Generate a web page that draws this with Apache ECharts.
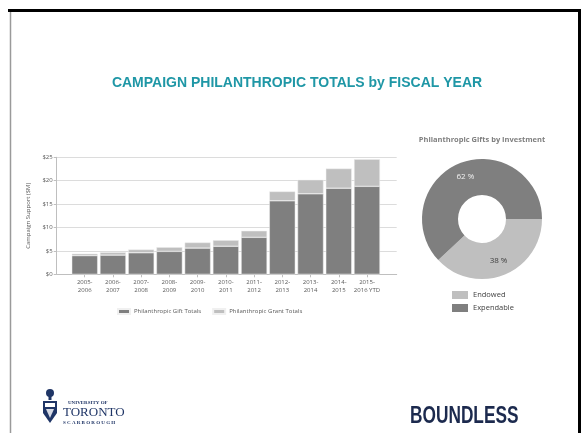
<!DOCTYPE html>
<html>
<head>
<meta charset="utf-8">
<script src="https://cdn.jsdelivr.net/npm/echarts@6/dist/echarts.min.js"></script>
<style>
html,body{margin:0;padding:0;background:#fff;}
#c{width:586px;height:433px;}
</style>
</head>
<body>
<div id="c"></div>
<script>
// ---- data ----
var categories = ['2005-\n2006','2006-\n2007','2007-\n2008','2008-\n2009','2009-\n2010','2010-\n2011','2011-\n2012','2012-\n2013','2013-\n2014','2014-\n2015','2015-\n2016 YTD'];
var giftTotals  = [4.0, 4.1, 4.6, 4.9, 5.6, 6.0, 7.9, 15.7, 17.2, 18.4, 18.8];
var grantTotals = [0.4, 0.6, 0.7, 0.9, 1.2, 1.3, 1.4, 2.0, 3.0, 4.2, 5.8];
var yTicks = [0, 5, 10, 15, 20, 25];
var pieNames = ['Endowed', 'Expendable'];
var pieValues = [38, 62];

var chart = echarts.init(document.getElementById('c'), null, {renderer:'canvas'});
var labelFont = 'Open Sans';
var navy = '#1f3566';

var option = {
  backgroundColor: '#ffffff',
  animation: false,
  title: [
    {text: 'CAMPAIGN PHILANTHROPIC TOTALS by FISCAL YEAR', left: 297, top: 76, textAlign: 'center', padding: 0,
     textStyle: {fontFamily: 'Liberation Sans', fontWeight: 'bold', fontSize: 14, color: '#1f97a6'}},
    {text: 'Philanthropic Gifts by Investment', left: 482, top: 136, textAlign: 'center', padding: 0,
     textStyle: {fontFamily: labelFont, fontWeight: 'bold', fontSize: 7.5, color: '#7f7f7f'}}
  ],
  legend: [
    {data: ['Philanthropic Gift Totals', 'Philanthropic Grant Totals'], left: 112, top: 303,
     itemWidth: 12, itemHeight: 5, itemGap: 11, icon: 'rect',
     textStyle: {fontFamily: labelFont, fontSize: 6, color: '#595959', padding: [0,0,0,-1]}},
    {data: pieNames, orient: 'vertical', left: 447, top: 286, itemWidth: 16, itemHeight: 8, itemGap: 5,
     icon: 'rect', textStyle: {fontFamily: labelFont, fontSize: 7.5, color: '#404040'}}
  ],
  grid: [
    {left: 56.7, top: 157.3, width: 340, height: 117, containLabel: false},
    {left: 70.6, top: 157.3, width: 310.5, height: 117, containLabel: false}
  ],
  xAxis: [
    {type: 'value', gridIndex: 0, min: 0, max: 1, axisLabel: {show: false}, axisTick: {show: false},
     splitLine: {show: false}, axisLine: {show: true, lineStyle: {color: '#bfbfbf', width: 1}}},
    {type: 'category', gridIndex: 1, data: categories, axisLine: {show: false},
     axisTick: {show: true, alignWithLabel: true, length: 3, lineStyle: {color: '#bfbfbf'}},
     axisLabel: {interval: 0, fontFamily: labelFont, fontSize: 6, lineHeight: 8, color: '#595959', margin: 4}}
  ],
  yAxis: [
    {type: 'value', gridIndex: 0, min: 0, max: 25, interval: 5,
     name: 'Campaign Support ($M)', nameLocation: 'middle', nameRotate: 90, nameGap: 22,
     nameTextStyle: {fontFamily: labelFont, fontSize: 6, color: '#595959'},
     axisLine: {show: true, lineStyle: {color: '#bfbfbf'}},
     axisTick: {show: true, length: 3, lineStyle: {color: '#bfbfbf'}},
     axisLabel: {fontFamily: labelFont, fontSize: 6, color: '#595959', margin: 4,
                 formatter: function (v) { return '$' + v; }},
     splitLine: {show: true, lineStyle: {color: '#dcdcdc', width: 1}}},
    {type: 'value', gridIndex: 1, min: 0, max: 25, interval: 5, show: false, splitLine: {show: false}}
  ],
  series: [
    {name: 'Philanthropic Gift Totals', type: 'bar', stack: 'tot', xAxisIndex: 1, yAxisIndex: 1,
     data: giftTotals, barCategoryGap: '8%',
     itemStyle: {color: '#7f7f7f', borderColor: '#f0f0f0', borderWidth: 0.5}},
    {name: 'Philanthropic Grant Totals', type: 'bar', stack: 'tot', xAxisIndex: 1, yAxisIndex: 1,
     data: grantTotals, barCategoryGap: '8%',
     itemStyle: {color: '#bfbfbf', borderColor: '#f0f0f0', borderWidth: 0.5}},
    {name: 'Investment', type: 'pie', center: [482, 219], radius: [24, 60], startAngle: 0, clockwise: true,
     label: {show: true, position: 'inside', fontFamily: labelFont, fontSize: 8,
             formatter: function (p) { return p.value + ' %'; }},
     labelLine: {show: false}, emphasis: {disabled: true},
     data: [
       {name: pieNames[0], value: pieValues[0], itemStyle: {color: '#bfbfbf'}, label: {color: '#404040'}},
       {name: pieNames[1], value: pieValues[1], itemStyle: {color: '#7f7f7f'}, label: {color: '#f2f2f2'}}
     ]}
  ],
  graphic: [
    {type: 'line', shape: {x1: 8, y1: 10.5, x2: 581, y2: 10.5}, style: {stroke: '#000', lineWidth: 3}},
    {type: 'line', shape: {x1: 579.5, y1: 9, x2: 579.5, y2: 433}, style: {stroke: '#000', lineWidth: 3}},
    {type: 'line', shape: {x1: 10.5, y1: 12, x2: 10.5, y2: 433}, style: {stroke: '#9a9a9a', lineWidth: 1.5}},
    // crest
    {type: 'circle', shape: {cx: 50, cy: 393, r: 4}, style: {fill: navy}},
    {type: 'rect', shape: {x: 48.5, y: 396, width: 3, height: 4}, style: {fill: navy}},
    {type: 'polygon', shape: {points: [[43,401],[57,401],[57,413],[50,423],[43,413]]}, style: {fill: navy}},
    {type: 'rect', shape: {x: 45, y: 403, width: 10, height: 4}, style: {fill: '#ffffff'}},
    {type: 'polygon', shape: {points: [[46,409],[54,409],[50,418]]}, style: {fill: '#d7dbe6'}},
    // university text
    {type: 'text', left: 68, top: 400, style: {text: 'UNIVERSITY OF', font: 'bold 5px "Liberation Serif"', fill: navy}},
    {type: 'text', left: 63, top: 406, style: {text: 'TORONTO', font: '13px "Liberation Serif"', fill: navy}},
    {type: 'text', left: 63, top: 420, style: {text: 'S C A R B O R O U G H', font: 'bold 5px "Liberation Serif"', fill: navy}},
    {type: 'text', x: 410, y: 404, scaleX: 0.72, scaleY: 1, style: {text: 'BOUNDLESS', font: 'bold 24px "Liberation Sans"', fill: '#1c2a4e'}}
  ]
};
chart.setOption(option);
</script>
</body>
</html>
